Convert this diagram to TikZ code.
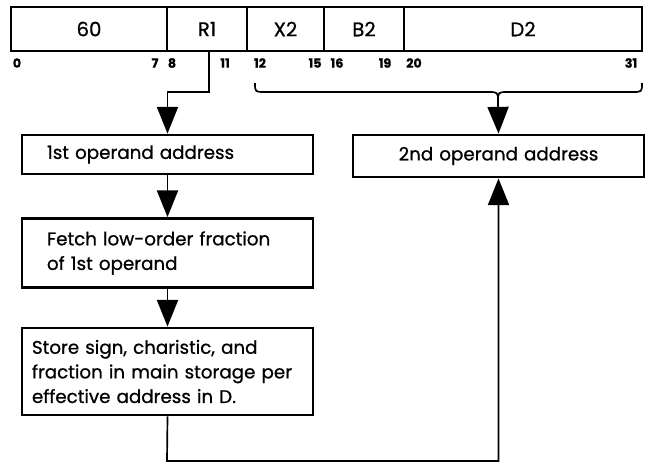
\documentclass[tikz,border=0pt]{standalone}
\usepackage{fontspec}
\setmainfont{Poppins}[FakeBold = 0.8]
\usetikzlibrary{arrows.meta}
\begin{document}
\begin{tikzpicture}[x = 0.025cm, y = -0.025cm,
    field/.style = {draw, line width = 2pt, minimum height = 1.1cm, inner sep = 0pt, font = \fontsize{14}{16}\selectfont},
    bit/.style = {inner sep = 0pt, font = \bfseries\fontsize{9}{10}\selectfont},
    stepbox/.style = {draw, line width = 2pt, inner xsep = 0.625cm, inner ysep = 0pt, text width = 6.025cm, align = left, font = \fontsize{13}{17.5}\selectfont},
    flow/.style = {line width = 1.2pt, -{Triangle[width = 15pt, length = 19pt]}}]
  \useasboundingbox (0,0) rectangle (650,463);

  % instruction format
  \node[field, minimum width = 3.9cm]   at ( 89,  29) (op) {60};
  \node[field, minimum width = 2cm]     at (207,  29) (r1) {R1};
  \node[field, minimum width = 1.925cm] at (285.5,29) (x2) {X2};
  \node[field, minimum width = 2cm]     at (364,  29) (b2) {B2};
  \node[field, minimum width = 5.95cm]  at (523,  29) (d2) {D2};

  \node[bit] at ( 17, 63) (b0)  {0};
  \node[bit] at (155, 63) (b7)  {7};
  \node[bit] at (172, 63) (b8)  {8};
  \node[bit] at (225, 63) (b11) {11};
  \node[bit] at (260, 63) (b12) {12};
  \node[bit] at (315, 63) (b15) {15};
  \node[bit] at (337, 63) (b16) {16};
  \node[bit] at (385, 63) (b19) {19};
  \node[bit] at (414, 63) (b20) {20};
  \node[bit] at (631, 63) (b31) {31};

  % flow boxes
  \node[stepbox, minimum height = 0.975cm] at (167.5,154.5) (first) {1st operand address};
  \node[stepbox, minimum height = 1.725cm] at (167.5,253) (fetch) {Fetch low-order fraction\\of 1st operand};
  \node[stepbox, minimum height = 2.175cm, inner xsep = 0.25cm, text width = 6.775cm] at (167.5,371.5) (store)
    {Store sign, charistic, and\\fraction in main storage per\\effective address in D.};
  \node[stepbox, minimum height = 1.05cm, align = center] at (498.5,156) (second) {2nd operand address};

  % brace over X2, B2, D2
  \coordinate (tip) at (498,102);
  \draw[line width = 1.2pt] (255,83) .. controls (255,92) .. (265,92) -- (488,92)
    .. controls (498,92) .. (tip) .. controls (498,92) .. (508,92) -- (632,92)
    .. controls (642,92) .. (642,83);

  \coordinate (r1low) at (209,92);
  \draw[flow] (r1.south -| r1low) -- (r1low) -| (first.north);
  \draw[flow] (tip) -- (second.north);
  \draw[flow] (first) -- (fetch);
  \draw[flow] (fetch) -- (store);
  \coordinate (loop) at (167,461);
  \draw[flow] (store.south) -- (loop) -| (second.south);
\end{tikzpicture}
\end{document}
